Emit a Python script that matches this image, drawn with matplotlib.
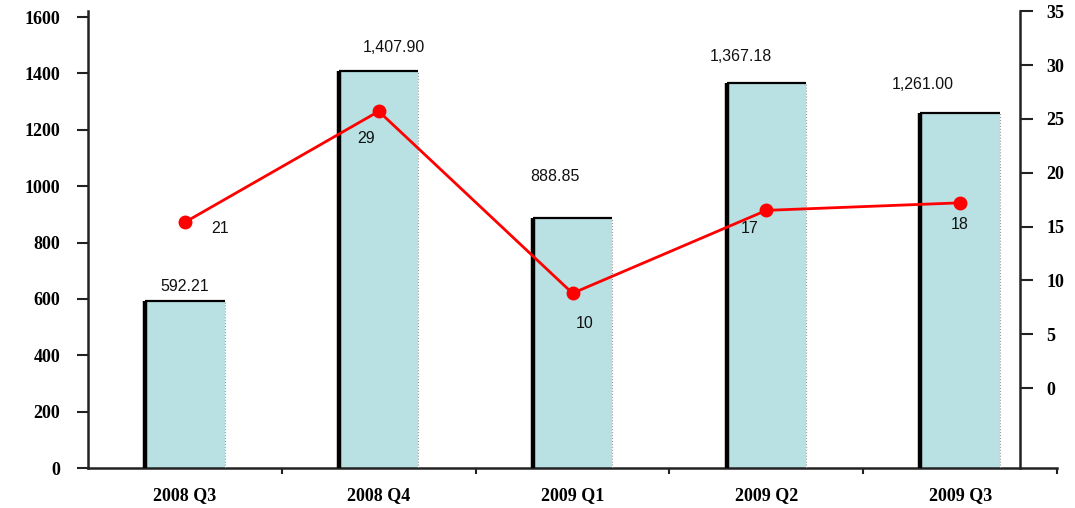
import numpy as np
import matplotlib
matplotlib.use('Agg')
import matplotlib.pyplot as plt

# dados do gráfico
quarters = ['2008 Q3', '2008 Q4', '2009 Q1', '2009 Q2', '2009 Q3']
bar_values = [592.21, 1407.90, 888.85, 1367.18, 1261.00]
line_values = [15.4, 25.7, 8.8, 16.5, 17.2]   # posição dos pontos no eixo direito
line_labels = ['21', '29', '10', '17', '18']    # rótulos escritos no gráfico

# deslocamentos dos rótulos (pixels)
bar_label_offsets = [(0, 15), (15, 24), (-18, 41), (-25, 26), (-37, 28)]
line_label_offsets = [(35, -6), (-13, -27), (12, -30), (-17, -18), (0, -22)]

bar_color = '#b9e0e3'
line_color = '#ff0000'
axis_color = '#222222'

fig = plt.figure(figsize=(10.75, 5.08), dpi=100)
ax = fig.add_axes([0.0819, 0.0787, 0.9014, 0.8993])

x = np.arange(len(quarters))
w = 0.41
ax.bar(x, bar_values, width=w, color=bar_color, edgecolor='none', zorder=2)
# borda preta à esquerda e em cima, pontilhada à direita
ax.vlines(x - w / 2, 0, bar_values, color='black', lw=3.2, zorder=3)
ax.hlines(bar_values, x - w / 2, x + w / 2, color='black', lw=1.6, zorder=3)
ax.vlines(x + w / 2, 0, bar_values, color='#999999', lw=0.8, linestyles=':', zorder=3)

for xi, v, off in zip(x, bar_values, bar_label_offsets):
    ax.annotate(f'{v:,.2f}', (xi, v), xytext=off, textcoords='offset pixels',
                ha='center', va='center', fontsize=11.5, family='Liberation Sans',
                color='#111111')

ax.set_xlim(-0.5, len(quarters) - 0.5)
ax.set_ylim(0, 1621)
ax.set_yticks(np.arange(0, 1601, 200))
ax.set_xticks(x)
ax.set_xticklabels(quarters, fontsize=13, fontweight='bold', family='Liberation Serif')
ax.set_xticks(np.arange(0.5, len(quarters)), minor=True)
ax.tick_params(axis='x', which='major', length=0, pad=14)
ax.tick_params(axis='x', which='minor', length=4, width=1.5, color=axis_color)
ax.tick_params(axis='y', length=8, width=1.5, color=axis_color, pad=12)
for lbl in ax.get_yticklabels():
    lbl.set_fontsize(13)
    lbl.set_fontweight('bold')
    lbl.set_family('Liberation Serif')

for s in ['top', 'right']:
    ax.spines[s].set_visible(False)
for s in ['left', 'bottom']:
    ax.spines[s].set_linewidth(1.8)
    ax.spines[s].set_color(axis_color)

# eixo da direita
ax2 = ax.twinx()
ax2.set_ylim(-7.43, 35)
ax2.set_yticks(np.arange(0, 36, 5))
for s in ['top', 'left', 'bottom']:
    ax2.spines[s].set_visible(False)
ax2.spines['right'].set_position(('axes', 0.962))
ax2.spines['right'].set_linewidth(1.8)
ax2.spines['right'].set_color(axis_color)
ax2.tick_params(axis='y', length=9, width=1.5, color=axis_color, pad=10)
for lbl in ax2.get_yticklabels():
    lbl.set_fontsize(13)
    lbl.set_fontweight('bold')
    lbl.set_family('Liberation Serif')

ax2.plot(x, line_values, color=line_color, lw=2, marker='o', markersize=9,
         zorder=5)
for xi, v, t, off in zip(x, line_values, line_labels, line_label_offsets):
    ax2.annotate(t, (xi, v), xytext=off, textcoords='offset pixels',
                 ha='center', va='center', fontsize=11.5, family='Liberation Sans',
                 color='#111111')

fig.savefig('out.png', dpi=100)
